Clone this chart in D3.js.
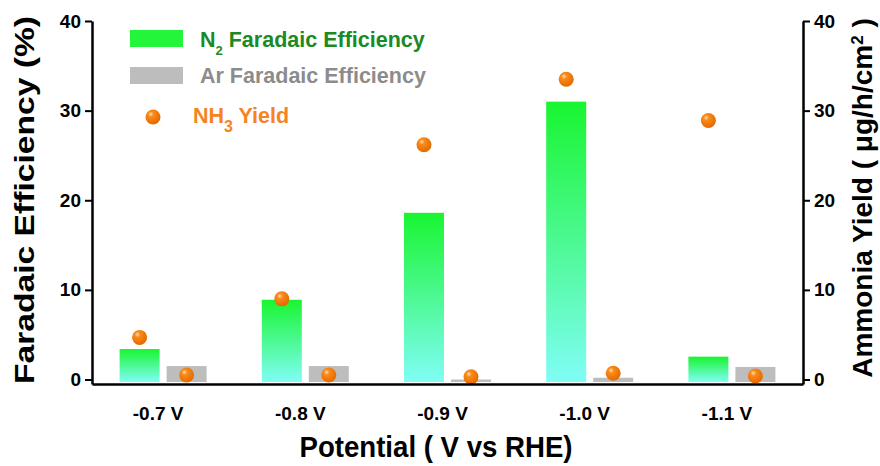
<!DOCTYPE html>
<html>
<head>
<meta charset="utf-8">
<script src="https://cdn.jsdelivr.net/npm/d3@7"></script>
<style>
  body { margin: 0; background: #fff; }
  text { font-family: "Liberation Sans", Arial, sans-serif; font-weight: bold; }
</style>
</head>
<body>
<div id="chart"></div>
<script>
const potentials = ["-0.7 V", "-0.8 V", "-0.9 V", "-1.0 V", "-1.1 V"];
const n2FE = [3.4, 8.9, 18.6, 31.0, 2.55];
const arFE = [1.5, 1.5, 0.0, 0.2, 1.4];
const n2Yield = [4.7, 9.0, 26.2, 33.5, 28.9];
const arYield = [0.5, 0.5, 0.3, 0.7, 0.4];
const yTicks = [0, 10, 20, 30, 40];

const width = 880, height = 466;
const margin = {top: 21, right: 77, bottom: 82, left: 92};

const svg = d3.select("#chart")
    .append("svg")
    .attr("width", width)
    .attr("height", height);

const defs = svg.append("defs");
const grad = defs.append("linearGradient")
    .attr("id", "barGrad")
    .attr("x1", 0).attr("y1", 0).attr("x2", 0).attr("y2", 1);
grad.append("stop").attr("offset", "0%").attr("stop-color", "#19f530");
grad.append("stop").attr("offset", "100%").attr("stop-color", "#80fdf6");

const ball = defs.append("radialGradient")
    .attr("id", "ballGrad")
    .attr("cx", "40%").attr("cy", "35%").attr("r", "65%")
    .attr("fx", "35%").attr("fy", "30%");
ball.append("stop").attr("offset", "0%").attr("stop-color", "#ffe0b8");
ball.append("stop").attr("offset", "28%").attr("stop-color", "#fb8a18");
ball.append("stop").attr("offset", "100%").attr("stop-color", "#e36a00");

const x0 = d3.scaleBand()
    .domain(potentials)
    .range([margin.left, width - margin.right])
    .padding(0);

const half = 43.5;
const x1 = d3.scaleBand()
    .domain(["N2", "Ar"])
    .range([x0.bandwidth() / 2 - half, x0.bandwidth() / 2 + half])
    .paddingInner(7 / 47)
    .paddingOuter(0);

const y = d3.scaleLinear()
    .domain([-0.5, 40])
    .range([384, margin.top]);

const y2 = d3.scaleLinear()
    .domain([-0.5, 40])
    .range([384, margin.top]);

// bars
const groups = svg.selectAll(".grp")
    .data(potentials)
    .enter()
    .append("g")
    .attr("transform", d => `translate(${x0(d)},0)`);

groups.append("rect")
    .attr("x", x1("N2"))
    .attr("width", x1.bandwidth())
    .attr("y", (d, i) => y(n2FE[i]))
    .attr("height", (d, i) => y(-0.5) - y(n2FE[i]) - 2)
    .attr("fill", "url(#barGrad)");

groups.append("rect")
    .attr("x", x1("Ar"))
    .attr("width", x1.bandwidth())
    .attr("y", (d, i) => y(arFE[i]))
    .attr("height", (d, i) => y(-0.5) - y(arFE[i]) - 2)
    .attr("fill", "#bdbdbd");

// yield points
groups.append("circle")
    .attr("cx", x1("N2") + x1.bandwidth() / 2)
    .attr("cy", (d, i) => y2(n2Yield[i]))
    .attr("r", 7.5)
    .attr("fill", "url(#ballGrad)");

groups.append("circle")
    .attr("cx", x1("Ar") + x1.bandwidth() / 2)
    .attr("cy", (d, i) => y2(arYield[i]))
    .attr("r", 7.5)
    .attr("fill", "url(#ballGrad)");

// axes
const xAxis = svg.append("g")
    .attr("transform", `translate(0,384)`)
    .call(d3.axisBottom(x0).tickSize(0).tickPadding(25).tickSizeOuter(0));
xAxis.select(".domain").attr("stroke", "#000").attr("stroke-width", 2.5);
xAxis.selectAll("text").attr("font-size", 19).attr("fill", "#000").attr("dx", -5).attr("dy", "0.6em");

const yAxis = svg.append("g")
    .attr("transform", `translate(${margin.left},0)`)
    .call(d3.axisLeft(y).tickValues(yTicks).tickSize(7).tickSizeOuter(0).tickPadding(4));
yAxis.select(".domain").attr("stroke-width", 2.5);
yAxis.selectAll(".tick line").attr("stroke-width", 2);
yAxis.selectAll("text").attr("font-size", 19).attr("fill", "#000");

const yAxis2 = svg.append("g")
    .attr("transform", `translate(${width - margin.right},0)`)
    .call(d3.axisRight(y2).tickValues(yTicks).tickSize(7).tickSizeOuter(0).tickPadding(4));
yAxis2.select(".domain").attr("stroke-width", 2.5);
yAxis2.selectAll(".tick line").attr("stroke-width", 2);
yAxis2.selectAll("text").attr("font-size", 19).attr("fill", "#000");

// titles
svg.append("text")
    .attr("x", 436)
    .attr("y", 457)
    .attr("text-anchor", "middle")
    .attr("font-size", 29)
    .attr("textLength", 273)
    .attr("lengthAdjust", "spacingAndGlyphs")
    .text("Potential ( V vs RHE)");

svg.append("text")
    .attr("transform", `translate(34,200) rotate(-90)`)
    .attr("text-anchor", "middle")
    .attr("font-size", 28)
    .attr("textLength", 368)
    .attr("lengthAdjust", "spacingAndGlyphs")
    .text("Faradaic Efficiency (%)");

const rt = svg.append("text")
    .attr("transform", `translate(872,198) rotate(-90)`)
    .attr("text-anchor", "middle")
    .attr("font-size", 28);
rt.append("tspan").text("Ammonia Yield ( μg/h/cm");
rt.append("tspan").attr("font-size", 17).attr("baseline-shift", "super").text("2");
rt.append("tspan").text(" )");

// legend
const lg = svg.append("g");
lg.append("rect").attr("x", 130).attr("y", 30).attr("width", 53).attr("height", 17).attr("fill", "#22f53a");
const t1 = lg.append("text").attr("x", 200).attr("y", 47).attr("font-size", 21.5).attr("fill", "#1a8a22");
t1.append("tspan").text("N");
t1.append("tspan").attr("font-size", 13).attr("baseline-shift", "sub").text("2");
t1.append("tspan").text(" Faradaic Efficiency");

lg.append("rect").attr("x", 130).attr("y", 67).attr("width", 53).attr("height", 17).attr("fill", "#bdbdbd");
lg.append("text").attr("x", 200).attr("y", 83).attr("font-size", 21.5).attr("fill", "#8c8c8c")
    .text("Ar Faradaic Efficiency");

lg.append("circle").attr("cx", 153).attr("cy", 117).attr("r", 7.5).attr("fill", "url(#ballGrad)");
const t3 = lg.append("text").attr("x", 193).attr("y", 123).attr("font-size", 21.5).attr("fill", "#f5841f");
t3.append("tspan").text("NH");
t3.append("tspan").attr("font-size", 16).attr("baseline-shift", "sub").text("3");
t3.append("tspan").text(" Yield");
</script>
</body>
</html>
